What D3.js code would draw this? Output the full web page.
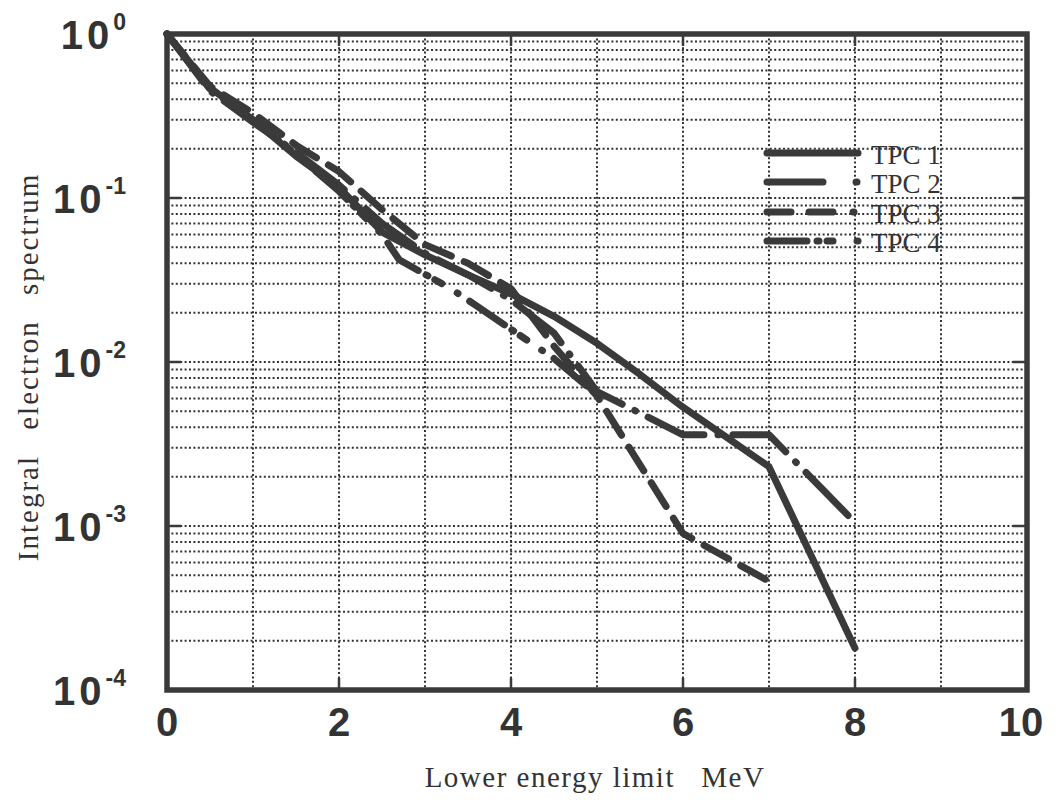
<!DOCTYPE html>
<html><head><meta charset="utf-8">
<script src="https://cdn.jsdelivr.net/npm/d3@7"></script>
<style>body{margin:0;background:#fff}</style>
</head><body>
<svg id="chart" width="1062" height="800"></svg>
<script>
// ---- data ----
const seriesNames = ["TPC 1", "TPC 2", "TPC 3", "TPC 4"];
const tpc1Energy = [0, 0.5, 1, 1.5, 2, 2.5, 3, 3.5, 4, 4.5, 5, 5.5, 6, 6.5, 7, 8];
const tpc1Values = [1.0, 0.47, 0.30, 0.18, 0.116, 0.062, 0.045, 0.034, 0.026, 0.019, 0.013, 0.0084, 0.0053, 0.0035, 0.0023, 0.00018];
const tpc2Energy = [0, 0.5, 1, 1.5, 2, 2.5, 3, 3.5, 4, 4.5, 5, 6, 7, 8];
const tpc2Values = [1.0, 0.45, 0.29, 0.19, 0.12, 0.07, 0.046, 0.034, 0.024, 0.015, 0.0066, 0.0036, 0.0036, 0.00105];
const tpc3Energy = [0, 0.5, 1, 1.5, 2, 2.5, 3, 3.5, 4, 4.5, 5, 6, 7];
const tpc3Values = [1.0, 0.48, 0.33, 0.21, 0.145, 0.085, 0.052, 0.040, 0.028, 0.0125, 0.0062, 0.0009, 0.00046];
const tpc4Energy = [0, 0.5, 1, 1.5, 2, 2.5, 2.7, 3.3, 3.6, 4.5, 5];
const tpc4Values = [1.0, 0.46, 0.30, 0.185, 0.11, 0.06, 0.042, 0.028, 0.022, 0.0105, 0.0063];
const xTicks = [0, 2, 4, 6, 8, 10];
const yTickExponents = [0, -1, -2, -3, -4];
const xTitle = "Lower energy limit   MeV";
const yTitle = "Integral electron spectrum";

// ---- layout ----
const svg = d3.select("#chart");
const L = 167, R = 1027, T = 34, B = 690;
const x = d3.scaleLinear().domain([0, 10]).range([L, R]);
const y = d3.scaleLog().domain([1e-4, 1]).range([B, T]);
const ink = "#3a3a3a";
const serif = "Liberation Serif, Times New Roman, serif";

// grid
const grid = svg.append("g");
const vGrid = d3.range(1, 10);
grid.selectAll("line.v").data(vGrid).join("line")
  .attr("x1", d => x(d)).attr("x2", d => x(d)).attr("y1", T).attr("y2", B)
  .attr("stroke", "#333").attr("stroke-width", 2).attr("stroke-dasharray", "2,2.4");
const hGrid = [];
for (let e = -4; e < 0; e++) for (let m = 1; m <= 9; m++) { if (!(e === -4 && m === 1)) hGrid.push(m * Math.pow(10, e)); }
grid.selectAll("line.h").data(hGrid).join("line")
  .attr("x1", L).attr("x2", R).attr("y1", d => y(d)).attr("y2", d => y(d))
  .attr("stroke", "#333").attr("stroke-width", 2).attr("stroke-dasharray", "2,2.4");

// major ticks (inward solid)
const majorY = yTickExponents.map(e => Math.pow(10, e)).filter(v => v < 1 && v > 1e-4);
svg.selectAll("line.yt").data(majorY).join("line")
  .attr("x1", L).attr("x2", L + 14).attr("y1", d => y(d)).attr("y2", d => y(d))
  .attr("stroke", ink).attr("stroke-width", 2.5);
svg.selectAll("line.yt2").data(majorY).join("line")
  .attr("x1", R - 14).attr("x2", R).attr("y1", d => y(d)).attr("y2", d => y(d))
  .attr("stroke", ink).attr("stroke-width", 2.5);
const majorX = xTicks.filter(v => v > 0 && v < 10);
svg.selectAll("line.xt").data(majorX).join("line")
  .attr("x1", d => x(d)).attr("x2", d => x(d)).attr("y1", B).attr("y2", B - 12)
  .attr("stroke", ink).attr("stroke-width", 2.5);
svg.selectAll("line.xt2").data(majorX).join("line")
  .attr("x1", d => x(d)).attr("x2", d => x(d)).attr("y1", T).attr("y2", T + 12)
  .attr("stroke", ink).attr("stroke-width", 2.5);

// frame
svg.append("rect").attr("x", L).attr("y", T).attr("width", R - L).attr("height", B - T)
  .attr("fill", "none").attr("stroke", ink).attr("stroke-width", 5.5);

// series
const dashes = ["", "60 14 1 14", "28 14", "42 9 2 8 8 18 1 14"];
const series = [
  {name: seriesNames[0], e: tpc1Energy, v: tpc1Values},
  {name: seriesNames[1], e: tpc2Energy, v: tpc2Values},
  {name: seriesNames[2], e: tpc3Energy, v: tpc3Values},
  {name: seriesNames[3], e: tpc4Energy, v: tpc4Values}
];
const line = d3.line().x(d => x(d[0])).y(d => y(d[1]));
series.forEach((s, i) => {
  svg.append("path").datum(s.e.map((e, k) => [e, s.v[k]]))
    .attr("d", line).attr("fill", "none").attr("stroke", ink)
    .attr("stroke-width", 7).attr("stroke-linecap", "round").attr("stroke-linejoin", "round")
    .attr("stroke-dasharray", dashes[i] || null);
});

// legend
const legY = [153, 182, 212, 241];
const legDash = [null, "56 33 1 40", "24 18 24 20 1 40", "40 10 2 8 6 24 1 40"];
const leg = svg.append("g");
series.forEach((s, i) => {
  leg.append("line").attr("x1", 767).attr("x2", 858).attr("y1", legY[i]).attr("y2", legY[i])
    .attr("stroke", ink).attr("stroke-width", 7).attr("stroke-linecap", "round")
    .attr("stroke-dasharray", legDash[i]);
  leg.append("text").attr("x", 871).attr("y", legY[i] + 11)
    .attr("font-family", serif).attr("font-size", 27)
    .attr("fill", "#333").text(s.name);
});

// y tick labels
yTickExponents.forEach(e => {
  const t = svg.append("text").attr("x", 126).attr("y", y(Math.pow(10, e)) + 15)
    .attr("text-anchor", "end").attr("font-family", "Liberation Sans, Arial, sans-serif")
    .attr("font-weight", "bold").attr("fill", "#333");
  t.append("tspan").attr("font-size", 40).attr("letter-spacing", 4).text("10");
  t.append("tspan").attr("font-size", 23).attr("dy", -19).text(e === 0 ? "0" : "-" + Math.abs(e));
});

// x tick labels
svg.selectAll("text.xl").data(xTicks).join("text")
  .attr("x", d => x(d) - (d === 10 ? 6 : 0)).attr("y", 736).attr("text-anchor", "middle")
  .attr("font-family", "Liberation Sans, Arial, sans-serif").attr("font-weight", "bold")
  .attr("font-size", 40).attr("fill", "#333").text(d => d);

// axis titles
svg.append("text").attr("x", 595).attr("y", 787).attr("text-anchor", "middle")
  .attr("font-family", serif).attr("font-size", 29).attr("letter-spacing", 1.5)
  .attr("fill", "#333").style("white-space", "pre").text(xTitle);
svg.append("text").attr("transform", "translate(38,367) rotate(-90)").attr("text-anchor", "middle")
  .attr("font-family", serif).attr("font-size", 29).attr("letter-spacing", 2)
  .attr("word-spacing", 16)
  .attr("fill", "#333").style("white-space", "pre").text(yTitle);
</script>
</body></html>
